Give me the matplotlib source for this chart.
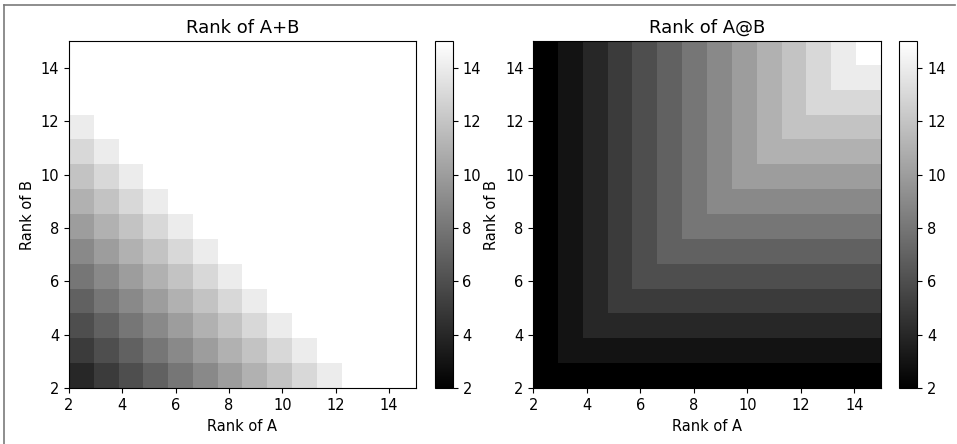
import numpy as np
import matplotlib
matplotlib.use("Agg")
import matplotlib.pyplot as plt
from matplotlib.lines import Line2D

# ranks of A (columns) and B (rows), 2..15
ranks = [2, 3, 4, 5, 6, 7, 8, 9, 10, 11, 12, 13, 14, 15]

# rank of A+B, one row per rank of B
rank_sum = [
    [4, 5, 6, 7, 8, 9, 10, 11, 12, 13, 14, 15, 15, 15],
    [5, 6, 7, 8, 9, 10, 11, 12, 13, 14, 15, 15, 15, 15],
    [6, 7, 8, 9, 10, 11, 12, 13, 14, 15, 15, 15, 15, 15],
    [7, 8, 9, 10, 11, 12, 13, 14, 15, 15, 15, 15, 15, 15],
    [8, 9, 10, 11, 12, 13, 14, 15, 15, 15, 15, 15, 15, 15],
    [9, 10, 11, 12, 13, 14, 15, 15, 15, 15, 15, 15, 15, 15],
    [10, 11, 12, 13, 14, 15, 15, 15, 15, 15, 15, 15, 15, 15],
    [11, 12, 13, 14, 15, 15, 15, 15, 15, 15, 15, 15, 15, 15],
    [12, 13, 14, 15, 15, 15, 15, 15, 15, 15, 15, 15, 15, 15],
    [13, 14, 15, 15, 15, 15, 15, 15, 15, 15, 15, 15, 15, 15],
    [14, 15, 15, 15, 15, 15, 15, 15, 15, 15, 15, 15, 15, 15],
    [15, 15, 15, 15, 15, 15, 15, 15, 15, 15, 15, 15, 15, 15],
    [15, 15, 15, 15, 15, 15, 15, 15, 15, 15, 15, 15, 15, 15],
    [15, 15, 15, 15, 15, 15, 15, 15, 15, 15, 15, 15, 15, 15],
]

# rank of A@B, one row per rank of B
rank_prod = [
    [2, 2, 2, 2, 2, 2, 2, 2, 2, 2, 2, 2, 2, 2],
    [2, 3, 3, 3, 3, 3, 3, 3, 3, 3, 3, 3, 3, 3],
    [2, 3, 4, 4, 4, 4, 4, 4, 4, 4, 4, 4, 4, 4],
    [2, 3, 4, 5, 5, 5, 5, 5, 5, 5, 5, 5, 5, 5],
    [2, 3, 4, 5, 6, 6, 6, 6, 6, 6, 6, 6, 6, 6],
    [2, 3, 4, 5, 6, 7, 7, 7, 7, 7, 7, 7, 7, 7],
    [2, 3, 4, 5, 6, 7, 8, 8, 8, 8, 8, 8, 8, 8],
    [2, 3, 4, 5, 6, 7, 8, 9, 9, 9, 9, 9, 9, 9],
    [2, 3, 4, 5, 6, 7, 8, 9, 10, 10, 10, 10, 10, 10],
    [2, 3, 4, 5, 6, 7, 8, 9, 10, 11, 11, 11, 11, 11],
    [2, 3, 4, 5, 6, 7, 8, 9, 10, 11, 12, 12, 12, 12],
    [2, 3, 4, 5, 6, 7, 8, 9, 10, 11, 12, 13, 13, 13],
    [2, 3, 4, 5, 6, 7, 8, 9, 10, 11, 12, 13, 14, 14],
    [2, 3, 4, 5, 6, 7, 8, 9, 10, 11, 12, 13, 14, 15],
]

titles = ['Rank of A+B', 'Rank of A@B']

plt.rcParams['font.size'] = 10.5

fig = plt.figure(figsize=(9.57, 4.44), dpi=100)

ax_pos = [[0.0721, 0.1255, 0.3623, 0.7822], [0.5573, 0.1255, 0.3634, 0.7822]]
cb_pos = [[0.4545, 0.1255, 0.0185, 0.7822], [0.9397, 0.1255, 0.0188, 0.7822]]

lo, hi = ranks[0], ranks[-1]
for data, title, ap, cp in zip([rank_sum, rank_prod], titles, ax_pos, cb_pos):
    ax = fig.add_axes(ap)
    im = ax.imshow(np.array(data), cmap='gray', vmin=lo, vmax=hi,
                   origin='lower', extent=[lo, hi, lo, hi], aspect='auto')
    ax.set_title(title, fontsize=13)
    ax.set_xlabel('Rank of A')
    ax.set_ylabel('Rank of B')
    ax.set_xticks(range(2, 15, 2))
    ax.set_yticks(range(2, 15, 2))
    cax = fig.add_axes(cp)
    cb = fig.colorbar(im, cax=cax)
    cb.set_ticks(range(2, 15, 2))

# page border seen at the top and left of the picture
fig.add_artist(Line2D([4 / 957, 4 / 957], [0, 1 - 5 / 444], color='#7a7a7a', lw=1.2))
fig.add_artist(Line2D([4 / 957, 955 / 957], [1 - 5 / 444, 1 - 5 / 444], color='#7a7a7a', lw=1.2))

fig.savefig('out.png', dpi=100)
